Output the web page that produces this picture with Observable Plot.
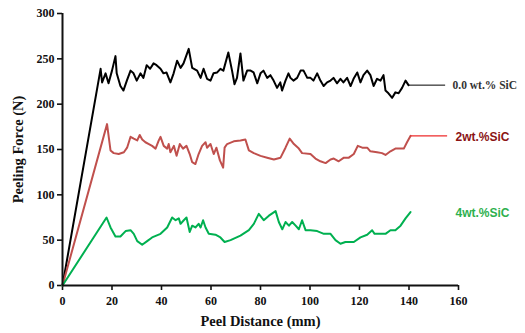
<!DOCTYPE html>
<html>
<head>
<meta charset="utf-8">
<script src="https://cdn.jsdelivr.net/npm/d3@7"></script>
<script src="https://cdn.jsdelivr.net/npm/@observablehq/plot@0.6"></script>
<style>
  html, body { margin: 0; padding: 0; background: #fff; }
  #chart svg { display: block; }
  g[aria-label="y-axis label"] text, g[aria-label="x-axis label"] text { font-size: 14.5px; }
</style>
</head>
<body>
<div id="chart"></div>
<script>
// ---- data ----
const seriesNames = ["0.0 wt.% SiC", "2wt.%SiC", "4wt.%SiC"];
const seriesColors = ["#000000", "#c0504d", "#00b050"];
const labelColors = ["#333333", "#8b1414", "#2eb04e"];
const xTicks = [0, 20, 40, 60, 80, 100, 120, 140, 160];
const yTicks = [0, 50, 100, 150, 200, 250, 300];

const blackX = [0, 15.4, 16, 17.4, 18.6, 20, 21.4, 21.9, 23.4, 24.6, 26, 27.5, 28.7, 30, 31.5, 32.7, 34, 35.4, 36.8, 38, 39.6, 40.8, 42, 43.6, 44.9, 46.3, 47.7, 48.9, 51, 52.4, 54.4, 55.8, 57, 58.4, 59.8, 61, 62.5, 63.8, 65, 67, 68.5, 69.5, 70.5, 71.9, 73.1, 74.6, 76, 77.2, 78.7, 80, 81.2, 82.7, 84, 85.3, 86.7, 88, 88.7, 90.1, 91.3, 92.1, 93.3, 94.8, 96.2, 97.4, 98.9, 100.2, 101.4, 102.9, 104.2, 105.5, 106.9, 108.3, 109.5, 110.9, 112.3, 113.5, 115, 116.4, 117.6, 119.1, 120.4, 121.6, 123.1, 124.4, 125.7, 127.1, 128.5, 129.7, 130.5, 131.7, 133.2, 134.5, 135.8, 137.2, 138.6, 139.8];
const blackY = [0, 239, 224, 234, 223, 237, 253, 234, 220, 215, 226, 237, 234, 226, 234, 229, 243, 239, 245, 243, 239, 234, 235, 224, 234, 248, 240, 245, 261, 240, 237, 229, 239, 228, 226, 234, 235, 239, 237, 257, 237, 222, 229, 256, 226, 237, 237, 235, 223, 234, 237, 229, 232, 226, 218, 224, 215, 226, 234, 229, 226, 229, 237, 237, 229, 229, 226, 234, 226, 220, 224, 226, 229, 223, 228, 224, 229, 220, 228, 235, 224, 232, 237, 232, 220, 228, 226, 232, 215, 212, 207, 213, 212, 218, 226, 221];

const redX = [0, 18, 19.4, 20.7, 22.7, 24.8, 26.1, 27.5, 28.8, 30.2, 31.2, 32.2, 33.5, 34.9, 36.2, 37.6, 38.9, 39.6, 40.9, 42.3, 42.9, 43.6, 45, 46.1, 47.4, 48.7, 50.1, 51.4, 52.4, 53.7, 55, 56.4, 57.8, 58.4, 59.8, 61.1, 62.2, 63.6, 64.9, 65.5, 66.5, 69.2, 71.9, 73.9, 75.3, 77.3, 80, 82.7, 85.4, 88.1, 90.1, 91.8, 93.5, 95.5, 96.8, 100.2, 102.2, 104.2, 106.3, 108.3, 109.6, 111.6, 113.7, 115.7, 117.7, 119.3, 121.1, 123.1, 124.4, 127.1, 129.1, 130.5, 132.5, 134.5, 137.9, 139.2, 140.6];
const redY = [0, 178, 149, 146, 145, 147, 152, 164, 162, 160, 166, 161, 158, 156, 154, 151, 160, 164, 154, 151, 156, 147, 154, 143, 156, 151, 154, 145, 136, 134, 145, 154, 158, 152, 156, 145, 152, 138, 130, 152, 156, 159, 160, 161, 149, 146, 143, 141, 139, 141, 152, 162, 156, 151, 146, 145, 140, 137, 135, 139, 140, 137, 141, 141, 145, 154, 152, 152, 148, 147, 146, 144, 148, 151, 151, 158, 165];

const greenX = [0, 17.8, 19.4, 21.4, 23.4, 25.5, 27.5, 28.8, 30.2, 32.2, 34.2, 36.2, 39.6, 42.3, 44.3, 45.7, 47, 47.7, 49, 50.1, 51.4, 52.4, 53.7, 55, 55.8, 56.8, 57.8, 59.1, 61.8, 63.8, 65.5, 67.9, 71.9, 75.3, 77.3, 79.3, 81.3, 83.4, 86.1, 87.4, 88.8, 90.1, 91.5, 92.8, 94.2, 95.5, 96.8, 98.2, 100.2, 102.9, 105.6, 108.3, 110.3, 112.3, 114.3, 117.7, 120.4, 123.1, 125.1, 126.1, 128.5, 130.5, 132.5, 134.5, 136.6, 138.6, 140.6];
const greenY = [0, 75, 64, 54, 54, 60, 61, 57, 49, 45, 49, 53, 57, 64, 75, 72, 74, 68, 72, 75, 59, 66, 64, 68, 64, 72, 64, 57, 56, 53, 48, 50, 55, 61, 68, 79, 72, 77, 82, 70, 62, 70, 66, 70, 66, 62, 72, 61, 61, 60, 57, 57, 50, 46, 48, 48, 53, 56, 61, 57, 57, 57, 61, 61, 66, 74, 81];

// ---- build table ----
const seriesXs = [blackX, redX, greenX];
const seriesYs = [blackY, redY, greenY];
const rows = [];
seriesNames.forEach((name, i) => {
  seriesXs[i].forEach((x, j) => rows.push({series: name, x, y: seriesYs[i][j]}));
});
const ends = seriesNames.map((name, i) => {
  const xs = seriesXs[i], ys = seriesYs[i];
  return {series: name, x: xs[xs.length - 1], y: ys[ys.length - 1], color: labelColors[i]};
});
const leaderLen = 14.8;

const chart = Plot.plot({
  width: 525,
  height: 333,
  marginLeft: 62,
  marginRight: 67,
  marginTop: 13,
  marginBottom: 48,
  style: {fontFamily: "'Liberation Serif', 'Times New Roman', serif", fontWeight: "bold", fontSize: "12px", color: "#111", background: "#fff"},
  x: {domain: [0, 160]},
  y: {domain: [0, 300]},
  color: {domain: seriesNames, range: seriesColors},
  marks: [
    Plot.axisX({ticks: xTicks, tickSize: 5, tickPadding: 6, strokeWidth: 1.6, label: "Peel Distance (mm)", labelAnchor: "center", labelArrow: "none", labelOffset: 40}),
    Plot.axisY({ticks: yTicks, tickSize: 5, tickPadding: 3, strokeWidth: 1.6, label: "Peeling Force (N)", labelAnchor: "center", labelArrow: "none", labelOffset: 50}),
    Plot.line(rows, {x: "x", y: "y", z: "series", stroke: "series", strokeWidth: 2, curve: "linear"}),
    Plot.ruleY([0], {stroke: "#111", strokeWidth: 2}),
    Plot.ruleX([0], {stroke: "#111", strokeWidth: 2}),
    Plot.link(ends.slice(0, 1), {x1: "x", y1: "y", x2: d => d.x + leaderLen, y2: "y", stroke: "#000", strokeWidth: 1}),
    Plot.link(ends.slice(1, 2), {x1: "x", y1: "y", x2: d => d.x + leaderLen, y2: "y", stroke: "#ee2b2b", strokeWidth: 1.3}),
    Plot.text(ends.slice(0, 1), {x: "x", y: "y", text: "series", fill: "color", dx: 44, textAnchor: "start", fontFamily: "'Liberation Serif', serif", fontWeight: "bold", fontSize: 11.5}),
    Plot.text(ends.slice(1), {x: "x", y: "y", text: "series", fill: "color", dx: 45, dy: 1, textAnchor: "start", fontFamily: "'Liberation Sans', Arial, sans-serif", fontWeight: "bold", fontSize: 12})
  ]
});
document.getElementById("chart").appendChild(chart);
</script>
</body>
</html>
